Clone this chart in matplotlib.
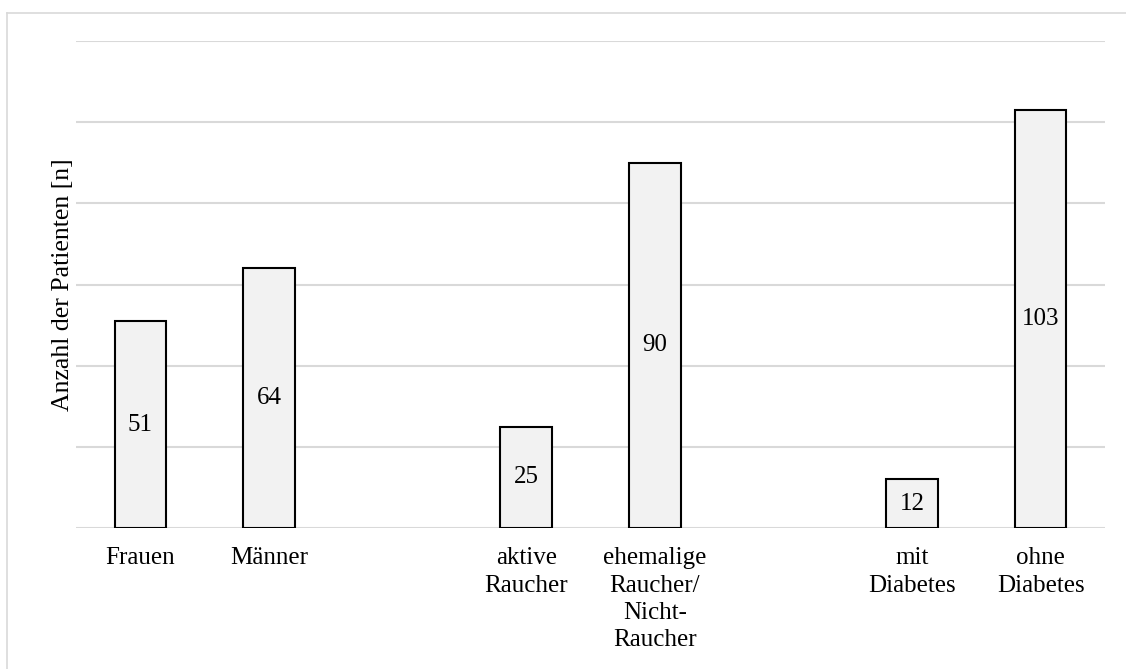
import matplotlib.pyplot as plt
from matplotlib.lines import Line2D

# Patientenzahlen nach Merkmal, je zwei Balken pro Gruppe
groups = [
    ['Frauen', 'Männer'],
    ['aktive\nRaucher', 'ehemalige\nRaucher/\nNicht-\nRaucher'],
    ['mit\nDiabetes', 'ohne\nDiabetes'],
]
values = [
    [51, 64],
    [25, 90],
    [12, 103],
]
y_max = 120
y_step = 20

plt.rcParams['font.family'] = ['Liberation Serif', 'DejaVu Serif']

fig = plt.figure(figsize=(11.26, 6.69), dpi=100)
ax = fig.add_axes([76 / 1126, 1 - 528 / 669, (1105 - 76) / 1126, (528 - 41) / 669])

# eine leere Position zwischen den Gruppen
positions, labels, heights = [], [], []
slot = 0
for names, vals in zip(groups, values):
    for name, v in zip(names, vals):
        positions.append(slot)
        labels.append(name)
        heights.append(v)
        slot += 1
    slot += 1
n_slots = slot - 1

bars = ax.bar(positions, heights, width=0.4, color='#f2f2f2',
              edgecolor='black', linewidth=1.5, zorder=3)
for b, v in zip(bars, heights):
    ax.text(b.get_x() + b.get_width() / 2, v / 2, str(v),
            ha='center', va='center', fontsize=18, zorder=4)

ax.set_xlim(-0.5, n_slots - 0.5)
ax.set_ylim(0, y_max)
ax.set_yticks(range(0, y_max + 1, y_step))
ax.set_yticklabels([])
ax.tick_params(axis='y', length=0)
ax.grid(axis='y', color='#d9d9d9', linewidth=1.5, zorder=0)
ax.set_axisbelow(True)

ax.set_xticks(positions)
ax.set_xticklabels(labels, fontsize=18, linespacing=1.3)
ax.tick_params(axis='x', length=0, pad=14)

for s in ax.spines.values():
    s.set_visible(False)

ax.set_ylabel('Anzahl der Patienten [n]', fontsize=18.5, labelpad=-2)

# Rahmen oben und links
fig.add_artist(Line2D([7.5 / 1126, 1], [1 - 12.5 / 669] * 2,
                      transform=fig.transFigure, color='#d9d9d9', linewidth=1.2))
fig.add_artist(Line2D([7.5 / 1126] * 2, [0, 1 - 12.5 / 669],
                      transform=fig.transFigure, color='#d9d9d9', linewidth=1.2))

fig.savefig('out.png', dpi=100)
